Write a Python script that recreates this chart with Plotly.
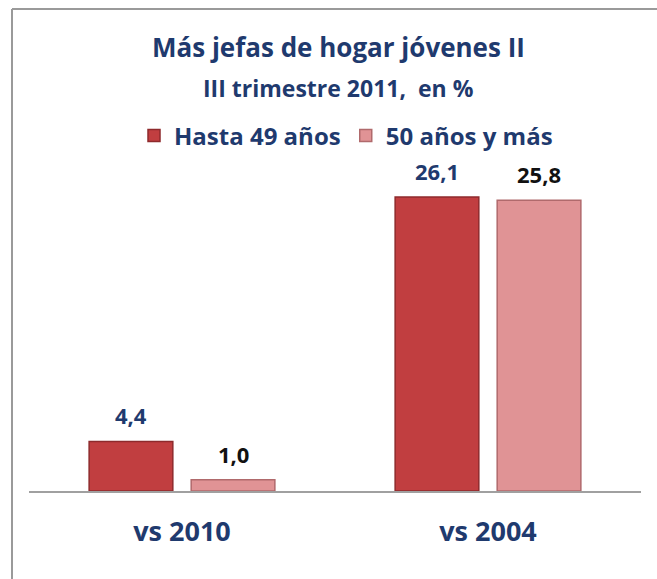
import plotly.graph_objects as go

categories = ["vs 2010", "vs 2004"]
series_names = ["Hasta 49 años", "50 años y más"]
hasta49 = [4.4, 26.1]
mas50 = [1.0, 25.8]
labels49 = ["4,4", "26,1"]
labels50 = ["1,0", "25,8"]

navy = "#1F3A6E"
font_family = "'Open Sans', 'Noto Sans', Arial, sans-serif"

W, H = 657, 579
ml, mr, mt, mb = 29, 16, 153, 88
pw = W - ml - mr
ph = H - mt - mb

fig = go.Figure()
fig.add_trace(go.Bar(
    x=categories, y=hasta49, name=series_names[0],
    marker=dict(color="#C13E40", line=dict(color="#8E2A2C", width=1.5)),
    cliponaxis=False,
))
fig.add_trace(go.Bar(
    x=categories, y=mas50, name=series_names[1],
    marker=dict(color="#E09395", line=dict(color="#B06A6C", width=1.5)),
    cliponaxis=False,
))

annotations = []
for c, v, t in zip(categories, hasta49, labels49):
    annotations.append(dict(x=c, y=v, text=t, xref="x", yref="y", showarrow=False,
                            xshift=-51, yshift=9, yanchor="bottom",
                            font=dict(family=font_family, size=22, color=navy, weight="bold")))
for c, v, t in zip(categories, mas50, labels50):
    annotations.append(dict(x=c, y=v, text=t, xref="x", yref="y", showarrow=False,
                            xshift=51, yshift=9, yanchor="bottom",
                            font=dict(family=font_family, size=22, color="#111111", weight="bold")))

def px_x(p):
    return (p - ml) / pw

def px_y(p):
    return (H - mb - p) / ph

annotations.append(dict(x=px_x(338), y=px_y(47), xref="paper", yref="paper", showarrow=False,
                        text="Más jefas de hogar jóvenes II", xanchor="center", yanchor="middle",
                        font=dict(family=font_family, size=26, color=navy, weight="bold")))
annotations.append(dict(x=px_x(338), y=px_y(88), xref="paper", yref="paper", showarrow=False,
                        text="III trimestre 2011,  en %", xanchor="center", yanchor="middle",
                        font=dict(family=font_family, size=23, color=navy, weight="bold")))

shapes = [
    dict(type="line", xref="paper", yref="paper", x0=px_x(12), x1=px_x(700), y0=px_y(9), y1=px_y(9),
         line=dict(color="#9A9A9A", width=2)),
    dict(type="line", xref="paper", yref="paper", x0=px_x(12), x1=px_x(12), y0=px_y(9), y1=px_y(620),
         line=dict(color="#9A9A9A", width=2)),
]

fig.update_layout(
    width=W, height=H,
    margin=dict(l=ml, r=mr, t=mt, b=mb),
    paper_bgcolor="white", plot_bgcolor="white",
    barmode="group", bargap=0.333, bargroupgap=0.18,
    showlegend=True,
    legend=dict(orientation="h", x=px_x(346), y=px_y(136), xanchor="center", yanchor="middle",
                font=dict(family=font_family, size=24, color=navy, weight="bold"),
                itemwidth=30, tracegroupgap=0, bgcolor="rgba(0,0,0,0)"),
    annotations=annotations,
    shapes=shapes,
    xaxis=dict(showline=True, linecolor="#A0A0A0", linewidth=1.5, ticks="", showgrid=False,
               tickfont=dict(family=font_family, size=27, color=navy, weight="bold"),
               ticklabelstandoff=16),
    yaxis=dict(range=[0, 30], visible=False, showgrid=False, zeroline=False),
)

fig.write_html("out.html")
